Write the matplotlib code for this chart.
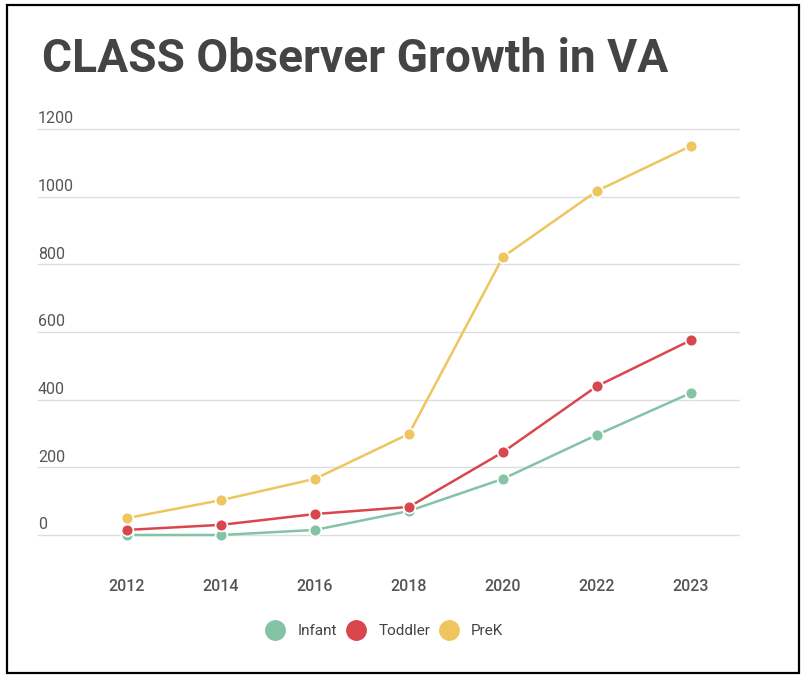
import matplotlib
matplotlib.use("Agg")
import matplotlib.pyplot as plt
from matplotlib.lines import Line2D
from matplotlib.patches import Rectangle

years = ["2012", "2014", "2016", "2018", "2020", "2022", "2023"]
infant = [0, 0, 15, 71, 166, 296, 420]
toddler = [15, 30, 62, 83, 245, 440, 576]
prek = [50, 103, 166, 299, 822, 1017, 1150]
yticks = [0, 200, 400, 600, 800, 1000, 1200]

series = [("Infant", infant, "#84C3A5"),
          ("Toddler", toddler, "#D9474E"),
          ("PreK", prek, "#EEC55E")]

plt.rcParams["font.family"] = ["Roboto", "DejaVu Sans"]

W, H = 801, 675
fig = plt.figure(figsize=(W / 100, H / 100), dpi=100)

# axes placed so the data grid lands where the reference has it
left_px, right_px = 38, 739
y0_px, y1200_px = 535, 129
ax = fig.add_axes([left_px / W, 1 - y0_px / H,
                   (right_px - left_px) / W, (y0_px - y1200_px) / H])
x = list(range(len(years)))
x0_px, step_px = 127, 94
ax.set_xlim((left_px - x0_px) / step_px, (right_px - x0_px) / step_px)
ax.set_ylim(0, 1200)

for yv in yticks:
    ax.axhline(yv, color="#dedede", lw=1.0, zorder=0, clip_on=False)
    ax.annotate(str(yv), xy=(0, yv), xycoords=("axes fraction", "data"),
                xytext=(0, 2), textcoords="offset points",
                ha="left", va="bottom", fontsize=11.5, color="#555555")

for name, vals, col in series:
    ax.plot(x, vals, color=col, lw=1.8, marker="o", markersize=8.5,
            markeredgecolor="white", markeredgewidth=1.2, clip_on=False,
            zorder=3)

for xi, lab in zip(x, years):
    ax.annotate(lab, xy=(xi, 0), xycoords="data", xytext=(0, -37),
                textcoords="offset points", ha="center", va="center",
                fontsize=11.5, fontweight="medium", color="#555555",
                annotation_clip=False)

ax.set_xticks([])
ax.set_yticks([])
for s in ax.spines.values():
    s.set_visible(False)

fig.text(42 / W, 1 - 59 / H, "CLASS Observer Growth in VA", fontsize=33.2,
         fontweight="bold", color="#444444", ha="left", va="center")

handles = [Line2D([], [], linestyle="none", marker="o", markersize=14,
                  markerfacecolor=col, markeredgecolor=col)
           for _, _, col in series]
fig.legend(handles, [s[0] for s in series], loc="center",
           bbox_to_anchor=(384 / W, 1 - 631 / H), ncol=3, frameon=False,
           fontsize=11, handletextpad=0.75, columnspacing=0.55,
           handlelength=1.4, labelcolor="#444444")

fig.patches.append(Rectangle((7 / W, 2 / H), 792 / W, 668 / H,
                             transform=fig.transFigure, fill=False,
                             edgecolor="black", lw=1.6))

fig.savefig("out.png", dpi=100)
